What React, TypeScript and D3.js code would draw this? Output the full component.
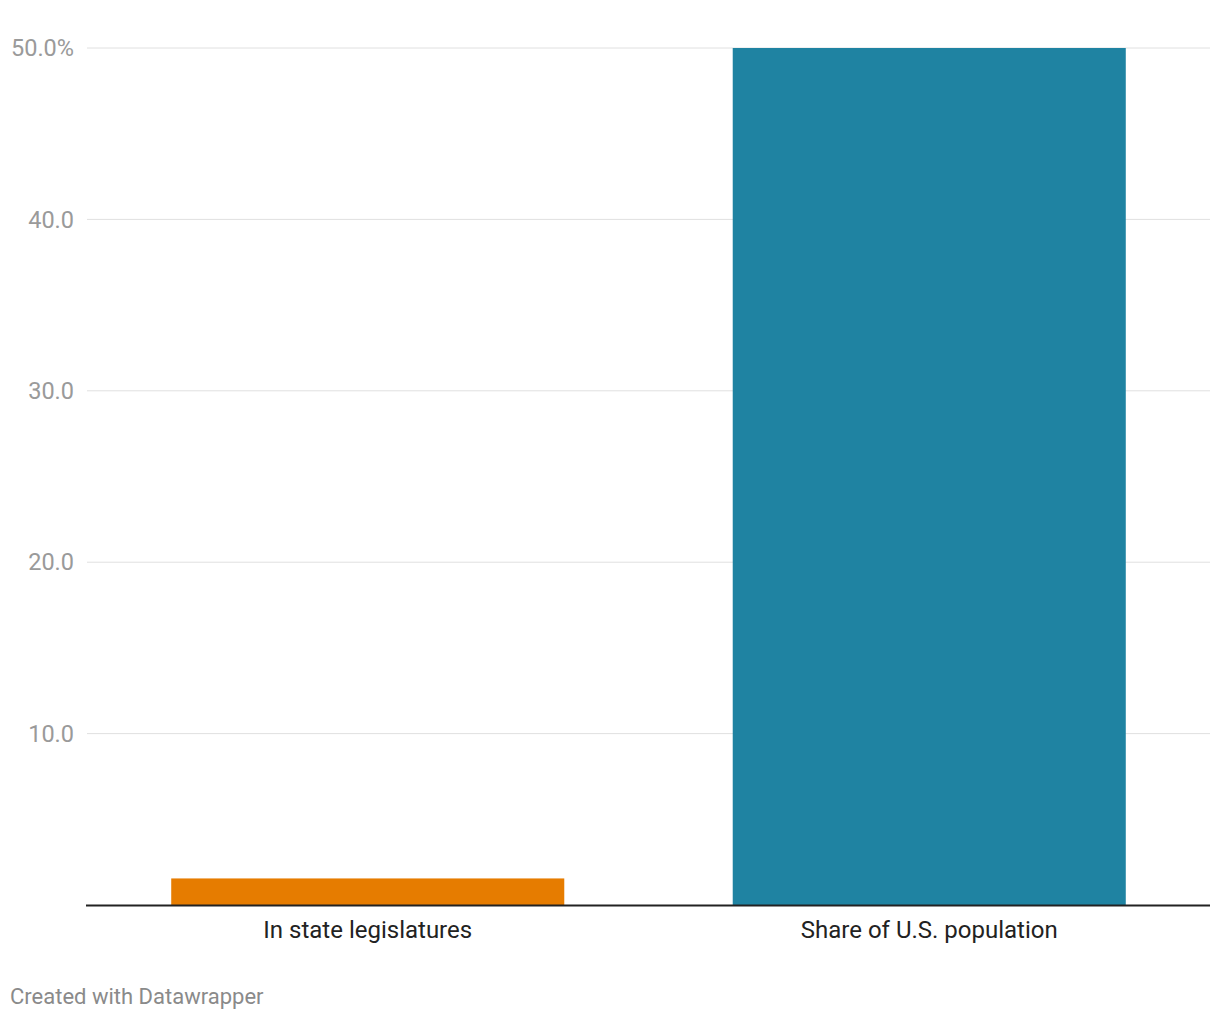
import React from "react";
import * as d3 from "d3";

const categories = ["In state legislatures", "Share of U.S. population"];
const values = [1.55, 50.0];
const colors = ["#e67c00", "#1f83a2"];
const yTicks = [10, 20, 30, 40, 50];

export default function App() {
  const width = 1220;
  const height = 1020;
  const left = 87;
  const right = 1210;
  const top = 48;
  const bottom = 905;

  const x = d3.scaleBand<string>().domain(categories).range([left, right]).paddingInner(0.3).paddingOuter(0.15);
  const y = d3.scaleLinear().domain([0, 50]).range([bottom, top]);

  return (
    <svg width={width} height={height} style={{ position: "absolute", left: 0, top: 0 }} fontFamily="Roboto">
      <rect width={width} height={height} fill="#fff" />
      {yTicks.map((t) => (
        <g key={t}>
          <line x1={left} x2={right} y1={y(t)} y2={y(t)} stroke="#e0e0e0" strokeWidth={1} />
          <text x={74} y={y(t)} dy="0.35em" textAnchor="end" fontSize={23.5} fill="#9a9a9a">
            {t === 50 ? "50.0%" : t.toFixed(1)}
          </text>
        </g>
      ))}
      {categories.map((c, i) => (
        <rect key={c} x={x(c)} y={y(values[i])} width={x.bandwidth()} height={bottom - y(values[i])} fill={colors[i]} />
      ))}
      <line x1={left - 1} x2={right} y1={bottom + 0.5} y2={bottom + 0.5} stroke="#222" strokeWidth={2} />
      {categories.map((c) => (
        <text key={c} x={(x(c) as number) + x.bandwidth() / 2} y={938} textAnchor="middle" fontSize={24} fill="#222">
          {c}
        </text>
      ))}
      <text x={10} y={1004} fontSize={22} fill="#8a8a8a">Created with Datawrapper</text>
    </svg>
  );
}
